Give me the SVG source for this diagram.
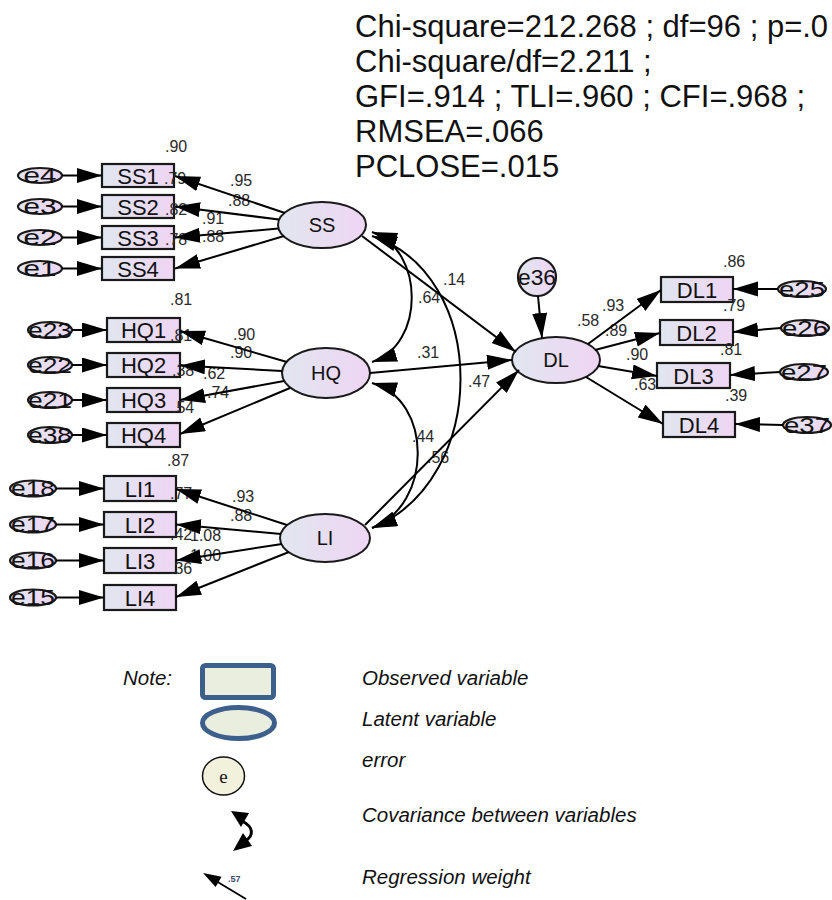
<svg xmlns="http://www.w3.org/2000/svg" width="832" height="900" viewBox="0 0 832 900">
<defs>
<linearGradient id="g" x1="0" y1="0" x2="1" y2="0">
<stop offset="0" stop-color="#e1e6ef"/>
<stop offset="1" stop-color="#efd5f4"/>
</linearGradient>
<marker id="ah" markerUnits="userSpaceOnUse" markerWidth="26" markerHeight="16" refX="25" refY="7.5" orient="auto">
<path d="M0,0 L25,7.5 L0,15 z" fill="#000"/>
</marker>
<marker id="ahs" markerUnits="userSpaceOnUse" markerWidth="26" markerHeight="16" refX="25" refY="7.5" orient="auto-start-reverse">
<path d="M0,0 L25,7.5 L0,15 z" fill="#000"/>
</marker>
</defs>
<style>
text{font-family:"Liberation Sans",Arial,sans-serif;fill:#111}
.obs rect{fill:url(#g);stroke:#1a1a1a;stroke-width:2.2}
.lat ellipse{fill:url(#g);stroke:#1a1a1a;stroke-width:2}
.err ellipse{fill:url(#g);stroke:#1a1a1a;stroke-width:2.2}
.obs text{font-size:22px;text-anchor:middle}
.lat text{font-size:20px;text-anchor:middle}
.err text{font-size:22px;text-anchor:middle}
.cf{font-size:16px;fill:#2a2a2a}
.stat{font-size:31px;fill:#111}
.lg{font-size:20.5px;font-style:italic}
#connectors path{fill:none;stroke:#000;stroke-width:2}
#connectors .a{marker-end:url(#ah)}
#connectors .c{marker-start:url(#ahs);marker-end:url(#ahs)}
</style>

<g id="fit">
<text class="stat" x="355" y="37">Chi-square=212.268 ; df=96 ; p=.0</text>
<text class="stat" x="355" y="72">Chi-square/df=2.211 ;</text>
<text class="stat" x="355" y="107">GFI=.914 ; TLI=.960 ; CFI=.968 ;</text>
<text class="stat" x="355" y="142">RMSEA=.066</text>
<text class="stat" x="355" y="177">PCLOSE=.015</text>
</g>

<!-- SS block -->
<g id="e4" class="err"><ellipse cx="40" cy="175.5" rx="22" ry="7.5"/><text x="40" y="183" textLength="33" lengthAdjust="spacingAndGlyphs">e4</text></g>
<g id="e3" class="err"><ellipse cx="40" cy="206.5" rx="22" ry="7.5"/><text x="40" y="214" textLength="33" lengthAdjust="spacingAndGlyphs">e3</text></g>
<g id="e2" class="err"><ellipse cx="40" cy="237.5" rx="22" ry="7.5"/><text x="40" y="245" textLength="33" lengthAdjust="spacingAndGlyphs">e2</text></g>
<g id="e1" class="err"><ellipse cx="40" cy="268.5" rx="22" ry="7.5"/><text x="40" y="276" textLength="33" lengthAdjust="spacingAndGlyphs">e1</text></g>
<g id="SS1" class="obs"><rect x="102" y="164" width="72" height="23"/><text x="138" y="183.5">SS1</text></g>
<g id="SS2" class="obs"><rect x="102" y="195" width="72" height="23"/><text x="138" y="214.5">SS2</text></g>
<g id="SS3" class="obs"><rect x="102" y="226" width="72" height="23"/><text x="138" y="245.5">SS3</text></g>
<g id="SS4" class="obs"><rect x="102" y="257" width="72" height="23"/><text x="138" y="276.5">SS4</text></g>
<g id="SS" class="lat"><ellipse cx="322" cy="225" rx="44" ry="23"/><text x="322" y="232">SS</text></g>

<!-- HQ block -->
<g id="e23" class="err"><ellipse cx="50" cy="330" rx="22" ry="8"/><text x="50" y="337.5" textLength="44" lengthAdjust="spacingAndGlyphs">e23</text></g>
<g id="e22" class="err"><ellipse cx="50" cy="365" rx="22" ry="8"/><text x="50" y="372.5" textLength="44" lengthAdjust="spacingAndGlyphs">e22</text></g>
<g id="e21" class="err"><ellipse cx="50" cy="400" rx="22" ry="8"/><text x="50" y="407.5" textLength="44" lengthAdjust="spacingAndGlyphs">e21</text></g>
<g id="e38" class="err"><ellipse cx="50" cy="435" rx="22" ry="8"/><text x="50" y="442.5" textLength="44" lengthAdjust="spacingAndGlyphs">e38</text></g>
<g id="HQ1" class="obs"><rect x="107" y="318" width="73" height="24"/><text x="143.5" y="338">HQ1</text></g>
<g id="HQ2" class="obs"><rect x="107" y="353" width="73" height="24"/><text x="143.5" y="373">HQ2</text></g>
<g id="HQ3" class="obs"><rect x="107" y="388" width="73" height="24"/><text x="143.5" y="408">HQ3</text></g>
<g id="HQ4" class="obs"><rect x="107" y="423" width="73" height="24"/><text x="143.5" y="443">HQ4</text></g>
<g id="HQ" class="lat"><ellipse cx="326" cy="373" rx="44" ry="25"/><text x="326" y="380">HQ</text></g>

<!-- LI block -->
<g id="e18" class="err"><ellipse cx="33" cy="488.5" rx="23" ry="8"/><text x="33" y="496" textLength="44" lengthAdjust="spacingAndGlyphs">e18</text></g>
<g id="e17" class="err"><ellipse cx="33" cy="524.5" rx="23" ry="8"/><text x="33" y="532" textLength="44" lengthAdjust="spacingAndGlyphs">e17</text></g>
<g id="e16" class="err"><ellipse cx="33" cy="560.5" rx="23" ry="8"/><text x="33" y="568" textLength="44" lengthAdjust="spacingAndGlyphs">e16</text></g>
<g id="e15" class="err"><ellipse cx="33" cy="597.5" rx="23" ry="8"/><text x="33" y="605" textLength="44" lengthAdjust="spacingAndGlyphs">e15</text></g>
<g id="LI1" class="obs"><rect x="104" y="476" width="72" height="25"/><text x="140" y="496.5">LI1</text></g>
<g id="LI2" class="obs"><rect x="104" y="512" width="72" height="25"/><text x="140" y="532.5">LI2</text></g>
<g id="LI3" class="obs"><rect x="104" y="548" width="72" height="25"/><text x="140" y="568.5">LI3</text></g>
<g id="LI4" class="obs"><rect x="104" y="585" width="72" height="25"/><text x="140" y="605.5">LI4</text></g>
<g id="LI" class="lat"><ellipse cx="325" cy="538" rx="45" ry="24"/><text x="325" y="545">LI</text></g>

<!-- DL block -->
<g id="e36" class="err"><ellipse cx="537" cy="277" rx="19" ry="19"/><text x="537" y="285" textLength="38" lengthAdjust="spacingAndGlyphs">e36</text></g>
<g id="DL" class="lat"><ellipse cx="556" cy="360" rx="44" ry="23"/><text x="556" y="367">DL</text></g>
<g id="DL1" class="obs"><rect x="661" y="277" width="72" height="25"/><text x="697" y="297.5">DL1</text></g>
<g id="DL2" class="obs"><rect x="660" y="320" width="73" height="25"/><text x="696.5" y="340.5">DL2</text></g>
<g id="DL3" class="obs"><rect x="657" y="363" width="73" height="25"/><text x="693.5" y="383.5">DL3</text></g>
<g id="DL4" class="obs"><rect x="663" y="412" width="72" height="25"/><text x="699" y="432.5">DL4</text></g>
<g id="e25" class="err"><ellipse cx="802" cy="289" rx="24" ry="8"/><text x="802" y="296.5" textLength="46" lengthAdjust="spacingAndGlyphs">e25</text></g>
<g id="e26" class="err"><ellipse cx="805" cy="328" rx="24" ry="8"/><text x="805" y="335.5" textLength="46" lengthAdjust="spacingAndGlyphs">e26</text></g>
<g id="e27" class="err"><ellipse cx="804" cy="372" rx="24" ry="8"/><text x="804" y="379.5" textLength="46" lengthAdjust="spacingAndGlyphs">e27</text></g>
<g id="e37" class="err"><ellipse cx="807" cy="425" rx="24" ry="8"/><text x="807" y="432.5" textLength="46" lengthAdjust="spacingAndGlyphs">e37</text></g>

<g id="coefficients">
<text class="cf" x="165" y="152">.90</text>
<text class="cf" x="164" y="184">.79</text>
<text class="cf" x="230" y="186">.95</text>
<text class="cf" x="228" y="206">.88</text>
<text class="cf" x="165" y="215">.82</text>
<text class="cf" x="202" y="224">.91</text>
<text class="cf" x="202" y="242">.88</text>
<text class="cf" x="165" y="245">.78</text>
<text class="cf" x="170" y="305">.81</text>
<text class="cf" x="170" y="341">.81</text>
<text class="cf" x="233" y="340">.90</text>
<text class="cf" x="230" y="358">.90</text>
<text class="cf" x="172" y="376">.38</text>
<text class="cf" x="203" y="379">.62</text>
<text class="cf" x="207" y="398">.74</text>
<text class="cf" x="172" y="413">.54</text>
<text class="cf" x="167" y="466">.87</text>
<text class="cf" x="170" y="499">.77</text>
<text class="cf" x="232" y="502">.93</text>
<text class="cf" x="230" y="521">.88</text>
<text class="cf" x="170" y="540">.42</text>
<text class="cf" x="190" y="541">1.08</text>
<text class="cf" x="190" y="561">1.00</text>
<text class="cf" x="170" y="574">.36</text>
<text class="cf" x="418" y="303">.64</text>
<text class="cf" x="443" y="285">.14</text>
<text class="cf" x="417" y="358">.31</text>
<text class="cf" x="468" y="387">.47</text>
<text class="cf" x="412" y="442">.44</text>
<text class="cf" x="427" y="463">.56</text>
<text class="cf" x="577" y="326">.58</text>
<text class="cf" x="602" y="311">.93</text>
<text class="cf" x="605" y="336">.89</text>
<text class="cf" x="626" y="360">.90</text>
<text class="cf" x="634" y="390">.63</text>
<text class="cf" x="723" y="267">.86</text>
<text class="cf" x="723" y="311">.79</text>
<text class="cf" x="720" y="355">.81</text>
<text class="cf" x="725" y="401">.39</text>
</g>

<g id="connectors">
<path class="a" d="M62,175.5 L102,175.5"/>
<path class="a" d="M62,206.5 L102,206.5"/>
<path class="a" d="M62,237.5 L102,237.5"/>
<path class="a" d="M62,268.5 L102,268.5"/>
<path class="a" d="M72,330 L107,330"/>
<path class="a" d="M72,365 L107,365"/>
<path class="a" d="M72,400 L107,400"/>
<path class="a" d="M72,435 L107,435"/>
<path class="a" d="M56,488.5 L104,488.5"/>
<path class="a" d="M56,524.5 L104,524.5"/>
<path class="a" d="M56,560.5 L104,560.5"/>
<path class="a" d="M56,597.5 L104,597.5"/>
<path class="a" d="M285,213 L175,176"/>
<path class="a" d="M279,219.5 L175,206.5"/>
<path class="a" d="M278.5,228.5 L175,237.5"/>
<path class="a" d="M284,236 L175,268.5"/>
<path class="a" d="M287,362 L180,331"/>
<path class="a" d="M282,371 L180,365.5"/>
<path class="a" d="M284,381 L180,400"/>
<path class="a" d="M290,388 L180,434"/>
<path class="a" d="M287,525 L176,489"/>
<path class="a" d="M281,534 L176,524.5"/>
<path class="a" d="M282,544 L176,560.5"/>
<path class="a" d="M289,552 L176,597"/>
<path class="a" d="M362,236 L516,352"/>
<path class="a" d="M370,373 L512,360"/>
<path class="a" d="M365,525 L519,370"/>
<path class="a" d="M538,296 L542,338"/>
<path class="a" d="M588,344 L661,290"/>
<path class="a" d="M595,350 L660,333"/>
<path class="a" d="M598,366 L657,376"/>
<path class="a" d="M586,377 L663,424"/>
<path class="a" d="M778,289 L733,289"/>
<path class="a" d="M781,328 L733,332"/>
<path class="a" d="M780,372 L730,375"/>
<path class="a" d="M783,425 L735,424"/>
<path class="c" d="M372,232 C425,250 425,345 372,362"/>
<path class="c" d="M372,236 C490,275 490,480 372,528"/>
<path class="c" d="M372,383 C433,400 433,505 372,528"/>
</g>

<g id="legend">
<text class="lg" x="123" y="685">Note:</text>
<rect x="202.5" y="665.5" width="71" height="32" rx="3" fill="#eaeedf" stroke="#3d5f8c" stroke-width="5"/>
<ellipse cx="238.5" cy="723" rx="36" ry="15.5" fill="#eaeedf" stroke="#3d5f8c" stroke-width="5"/>
<ellipse cx="223.5" cy="776" rx="21" ry="19" fill="#f2f2dc" stroke="#111" stroke-width="1.5"/>
<text x="223.5" y="783" text-anchor="middle" style="font-family:'Liberation Serif','Times New Roman',serif;font-size:19px">e</text>
<path d="M242,821 C254,827 254,836 245,841" fill="none" stroke="#000" stroke-width="3"/>
<polygon points="231,811 249,813 241,827" fill="#000"/>
<polygon points="233,851 252,846 243,833" fill="#000"/>
<path d="M246,899 L216,881" fill="none" stroke="#000" stroke-width="1.8"/>
<polygon points="203,873 221.6,876.7 215.6,887.1" fill="#000"/>
<text x="228" y="882" style="font-size:9px;font-weight:bold;fill:#3a4a6a">.57</text>
<text class="lg" x="362" y="685">Observed variable</text>
<text class="lg" x="362" y="726">Latent variable</text>
<text class="lg" x="362" y="767">error</text>
<text class="lg" x="362" y="822">Covariance between variables</text>
<text class="lg" x="362" y="884">Regression weight</text>
</g>
</svg>
